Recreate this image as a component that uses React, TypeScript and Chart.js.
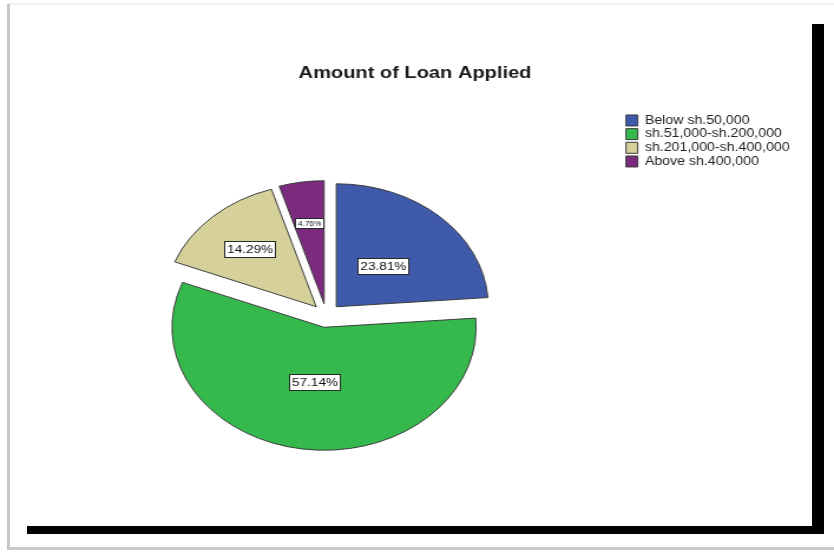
import React, { useEffect, useRef } from "react";
import { Chart, registerables } from "chart.js";

Chart.register(...registerables);

// ---- data ----
const chartTitle = "Amount of Loan Applied";
const categories = [
  "Below sh.50,000",
  "sh.51,000-sh.200,000",
  "sh.201,000-sh.400,000",
  "Above sh.400,000",
];
const percentages = [23.81, 57.14, 14.29, 4.76];
const percentLabels = ["23.81%", "57.14%", "14.29%", "4.76%"];
const sliceColors = ["#3f5aab", "#35b94c", "#d6d09b", "#7c2a7e"];

// ---- style / geometry ----
const FONT = "'Liberation Sans', Arial, sans-serif";
const PAGE_W = 834;
const PAGE_H = 552;
const CANVAS_W = 707; // drawn at this width, shown stretched to the page width like the reference
const Y_SQUISH = 0.954;
const EXPLODE = 12.5;
const RADIUS = 128.9;

const total = percentages.reduce((a, b) => a + b, 0);

// draws the library's arc elements, each pulled out from the centre, on a slightly flattened pie
const explodedPiePlugin = {
  id: "explodedPie",
  beforeDatasetsDraw(chart: any) {
    const meta = chart.getDatasetMeta(0);
    const ctx = chart.ctx;
    meta.data.forEach((arc: any) => {
      const { startAngle, endAngle, x, y } = arc.getProps(["startAngle", "endAngle", "x", "y"], true);
      const mid = (startAngle + endAngle) / 2;
      ctx.save();
      ctx.translate(x, y);
      ctx.scale(1, Y_SQUISH);
      ctx.translate(-x, -y);
      ctx.translate(Math.cos(mid) * EXPLODE, Math.sin(mid) * EXPLODE);
      arc.draw(ctx, chart.chartArea);
      ctx.restore();
    });
    return false;
  },
  afterDraw(chart: any) {
    const ctx = chart.ctx;
    const meta = chart.getDatasetMeta(0);
    meta.data.forEach((arc: any, i: number) => {
      const { startAngle, endAngle, outerRadius, x, y } = arc.getProps(
        ["startAngle", "endAngle", "outerRadius", "x", "y"],
        true
      );
      const share = percentages[i] / total;
      const theta = endAngle - startAngle;
      const mid = (startAngle + endAngle) / 2;
      const centroid = (4 * Math.sin(theta / 2)) / (3 * theta);
      const rf = share >= 0.2 ? 0.45 : centroid;
      const dist = EXPLODE + rf * outerRadius;
      const lx = x + Math.cos(mid) * dist;
      const ly = y + Math.sin(mid) * dist * Y_SQUISH;
      const small = share < 0.1;
      const size = small ? 7 : 11.5;
      ctx.save();
      ctx.font = `${size}px ${FONT}`;
      const text = percentLabels[i];
      const tw = ctx.measureText(text).width;
      const bw = Math.round(tw + 4);
      const bh = small ? 10 : 16;
      const bx = Math.round(lx - bw / 2) + 0.5;
      const by = Math.round(ly - bh / 2) + 0.5;
      ctx.fillStyle = "#ffffff";
      ctx.fillRect(bx, by, bw, bh);
      ctx.strokeStyle = "#2a2a2a";
      ctx.lineWidth = 1;
      ctx.strokeRect(bx, by, bw, bh);
      ctx.fillStyle = "#111111";
      ctx.textAlign = "center";
      ctx.textBaseline = "middle";
      ctx.fillText(text, bx + bw / 2, by + bh / 2 + 0.5);
      ctx.restore();
    });
  },
};

export default function App() {
  const canvasRef = useRef<HTMLCanvasElement | null>(null);

  useEffect(() => {
    if (!canvasRef.current) return;
    const chart = new Chart(canvasRef.current, {
      type: "pie",
      data: {
        labels: categories,
        datasets: [
          {
            data: percentages,
            backgroundColor: sliceColors,
            borderColor: "#3a3a3a",
            borderWidth: 1,
            radius: RADIUS,
            offset: 0,
            hoverOffset: 0,
          } as any,
        ],
      },
      options: {
        responsive: false,
        animation: false,
        events: [],
        layout: { padding: { top: 0, left: 24.2, right: 27.6, bottom: 33.8 } },
        plugins: {
          title: {
            display: true,
            text: chartTitle,
            color: "#1a1a1a",
            font: { family: FONT, size: 17, weight: "bold" },
            padding: { top: 63.5, bottom: 28.9 },
          },
          legend: {
            position: "right",
            align: "start",
            fullSize: false,
            labels: {
              boxWidth: 10,
              boxHeight: 11,
              padding: 1.67,
              color: "#222222",
              font: { family: FONT, size: 12 },
            },
          },
          tooltip: { enabled: false },
        },
      } as any,
      plugins: [explodedPiePlugin],
    });
    return () => chart.destroy();
  }, []);

  return (
    <div
      style={{
        position: "absolute",
        left: 0,
        top: 0,
        width: PAGE_W,
        height: PAGE_H,
        background: "#ffffff",
        overflow: "hidden",
      }}
    >
      <div style={{ position: "absolute", left: 8, top: 3, width: 826, height: 2, background: "#efefef" }} />
      <div style={{ position: "absolute", left: 7, top: 4, width: 3, height: 546, background: "#c6c6c6" }} />
      <div style={{ position: "absolute", left: 8, top: 547, width: 826, height: 3, background: "#c9c9c9" }} />
      <canvas
        ref={canvasRef}
        width={CANVAS_W}
        height={PAGE_H}
        style={{ position: "absolute", left: 0, top: 0, width: PAGE_W + "px", height: PAGE_H + "px" }}
      />
      <div style={{ position: "absolute", left: 812, top: 24, width: 12, height: 510, background: "#000000" }} />
      <div style={{ position: "absolute", left: 27, top: 526, width: 797, height: 8, background: "#000000" }} />
    </div>
  );
}
